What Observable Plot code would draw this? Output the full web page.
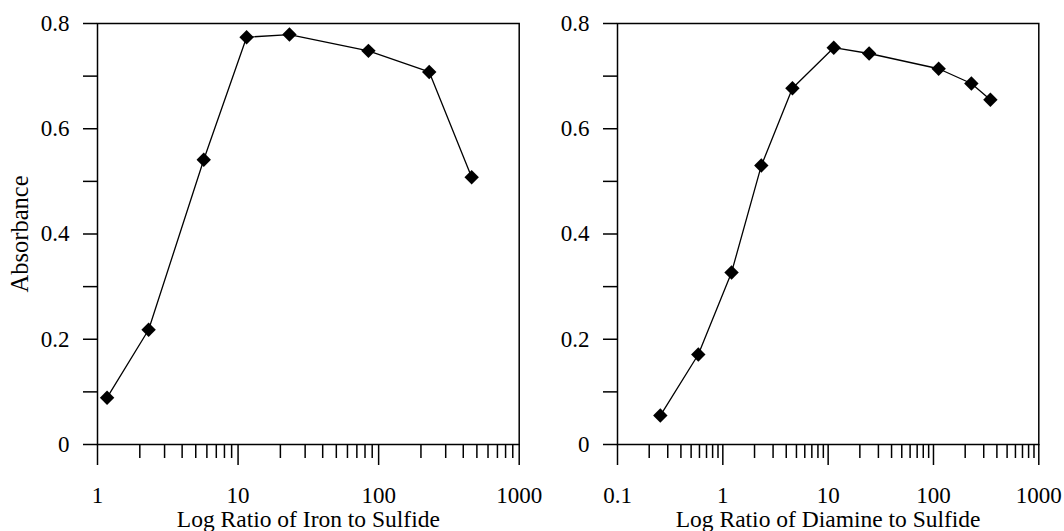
<!DOCTYPE html>
<html><head><meta charset="utf-8">
<script src="https://cdn.jsdelivr.net/npm/d3@7"></script>
<script src="https://cdn.jsdelivr.net/npm/@observablehq/plot@0.6"></script>
<style>
body{margin:0;background:#fff}
#c{display:flex;width:1064px;height:531px;overflow:hidden;background:#fff}
#c svg{overflow:visible;flex:none}
</style>
</head><body><div id="c"></div>
<script>
// Left panel: iron to sulfide
const ironRatio = [1.17, 2.31, 5.7, 11.5, 23.2, 84.6, 229, 459];
const ironAbs   = [0.089, 0.218, 0.541, 0.774, 0.779, 0.748, 0.708, 0.508];
// Right panel: diamine to sulfide
const diamineRatio = [0.255, 0.585, 1.21, 2.32, 4.58, 11.3, 24.5, 112, 229, 347];
const diamineAbs   = [0.055, 0.171, 0.327, 0.530, 0.677, 0.754, 0.743, 0.714, 0.686, 0.655];

const yTicks      = [0, 0.1, 0.2, 0.3, 0.4, 0.5, 0.6, 0.7, 0.8];
const yTickLabels = ["0", "", "0.2", "", "0.4", "", "0.6", "", "0.8"];
const ironXTicks      = [1, 10, 100, 1000];
const ironXTickLabels = ["1", "10", "100", "1000"];
const diamineXTicks      = [0.1, 1, 10, 100, 1000];
const diamineXTickLabels = ["0.1", "1", "10", "100", "1000"];
const minorMultipliers = [2, 3, 4, 5, 6, 7, 8, 9];

const yTitle = "Absorbance";
const ironXTitle = "Log Ratio of Iron to Sulfide";
const diamineXTitle = "Log Ratio of Diamine to Sulfide";

function panel({xs, ys, majors, majorLabels, xTitle, yTitleText, marginLeft, marginRight}) {
  const data = xs.map((x, i) => ({x, y: ys[i]}));
  const minors = majors.slice(0, -1).flatMap(d => minorMultipliers.map(m => d * m));
  const yLab = new Map(yTicks.map((d, i) => [d, yTickLabels[i]]));
  const xLab = new Map(majors.map((d, i) => [d, majorLabels[i]]));
  return Plot.plot({
    width: 532,
    height: 531,
    marginLeft,
    marginRight,
    marginTop: 23,
    marginBottom: 87,
    x: {type: "log", domain: [majors[0], majors[majors.length - 1]]},
    y: {domain: [0, 0.8]},
    style: {fontFamily: "'Liberation Serif', 'Times New Roman', serif", fontSize: "23px", color: "black", background: "transparent", overflow: "visible"},
    marks: [
      Plot.axisY({ticks: yTicks, tickSize: 14, tickPadding: 14, tickFormat: d => yLab.get(d), strokeWidth: 1.5, label: null, fontSize: 23}),
      Plot.axisX({ticks: minors, tickSize: 14, tickFormat: () => "", strokeWidth: 1.5, label: null}),
      Plot.axisX({ticks: majors, tickSize: 21, tickPadding: 21, tickFormat: d => xLab.get(d), strokeWidth: 1.5, label: null, fontSize: 23}),
      Plot.frame({stroke: "black", strokeWidth: 1.5}),
      Plot.line(data, {x: "x", y: "y", stroke: "black", strokeWidth: 1.3}),
      Plot.dot(data, {x: "x", y: "y", symbol: "diamond2", r: 6.5, fill: "black", stroke: "none"}),
      Plot.text([xTitle], {text: d => d, frameAnchor: "bottom", dy: 75, fontSize: 23.5, textAnchor: "middle", lineAnchor: "middle"}),
      yTitleText ? Plot.text([yTitleText], {text: d => d, frameAnchor: "left", dx: -77, rotate: -90, fontSize: 24.5, textAnchor: "middle", lineAnchor: "middle"}) : null
    ]
  });
}

const c = document.getElementById("c");
c.append(panel({xs: ironRatio, ys: ironAbs, majors: ironXTicks, majorLabels: ironXTickLabels, xTitle: ironXTitle, yTitleText: yTitle, marginLeft: 97, marginRight: 13.3}));
c.append(panel({xs: diamineRatio, ys: diamineAbs, majors: diamineXTicks, majorLabels: diamineXTickLabels, xTitle: diamineXTitle, yTitleText: null, marginLeft: 85, marginRight: 25.7}));
</script>
</body></html>
